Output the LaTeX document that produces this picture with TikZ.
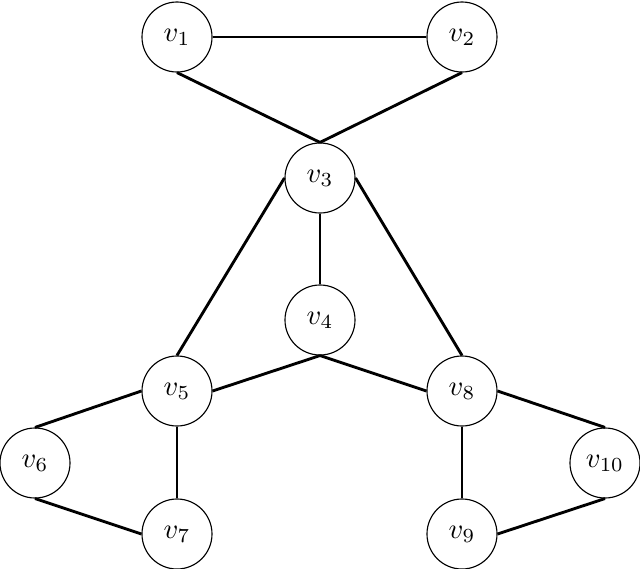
\documentclass[tikz,border=0pt]{standalone}
\begin{document}
\begin{tikzpicture}[x=0.35pt,y=-0.35pt,
  vert/.style={draw,circle,line width=0.4pt,minimum size=24.5pt,inner sep=0pt},
  edge/.style={line width=1pt}]
\useasboundingbox (0,0) rectangle (640,569);
\node[vert] (v1) at (177,37) {$v_1$};
\node[vert] (v2) at (462,37) {$v_2$};
\node[vert] (v3) at (320,178) {$v_3$};
\node[vert] (v4) at (320,320) {$v_4$};
\node[vert] (v5) at (177,391) {$v_5$};
\node[vert] (v8) at (462,391) {$v_8$};
\node[vert] (v6) at (35,463) {$v_6$};
\node[vert] (v10) at (605,463) {$v_{10}$};
\node[vert] (v7) at (177,534) {$v_7$};
\node[vert] (v9) at (462,534) {$v_9$};
\draw[edge] (v1.east) -- (v2.west);
\draw[edge] (v1.south) -- (v3.north);
\draw[edge] (v2.south) -- (v3.north);
\draw[edge] (v3.south) -- (v4.north);
\draw[edge] (v3.west) -- (v5.north);
\draw[edge] (v3.east) -- (v8.north);
\draw[edge] (v4.south) -- (v5.east);
\draw[edge] (v4.south) -- (v8.west);
\draw[edge] (v5.west) -- (v6.north);
\draw[edge] (v5.south) -- (v7.north);
\draw[edge] (v6.south) -- (v7.west);
\draw[edge] (v8.south) -- (v9.north);
\draw[edge] (v8.east) -- (v10.north);
\draw[edge] (v9.east) -- (v10.south);
\end{tikzpicture}
\end{document}
